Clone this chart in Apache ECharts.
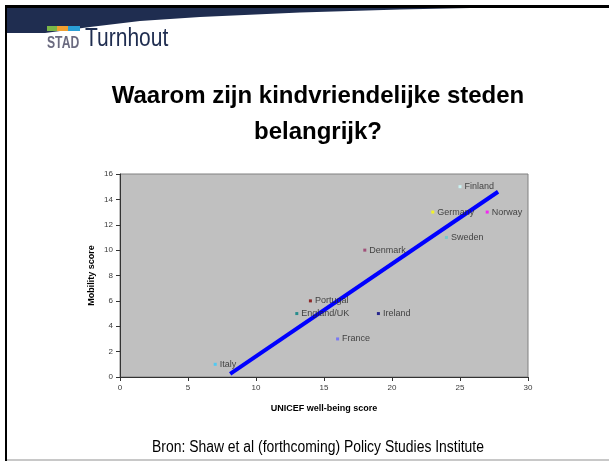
<!DOCTYPE html>
<html>
<head>
<meta charset="utf-8">
<script src="https://cdn.jsdelivr.net/npm/echarts@6/dist/echarts.min.js"></script>
<style>
html,body{margin:0;padding:0;background:#fff;}
#c{width:609px;height:461px;}
</style>
</head>
<body>
<div id="c"></div>
<script>
// ---- data ----
var countries = ['Italy','England/UK','Portugal','France','Ireland','Denmark','Germany','Sweden','Finland','Norway'];
var wellbeing = [7, 13, 14, 16, 19, 18, 23, 24, 25, 27];
var mobility  = [1, 5, 6, 3, 5, 10, 13, 11, 15, 13];
var pointColors = ['#33ccff','#008080','#800000','#6666ff','#000080','#993366','#ffff00','#66cccc','#ccffff','#ff00ff'];
var trendX = [8.1, 27.8];
var trendY = [0.25, 14.6];
var xTicks = [0, 5, 10, 15, 20, 25, 30];
var yTicks = [0, 2, 4, 6, 8, 10, 12, 14, 16];

var pts = countries.map(function(n, i){
  return {name: n, value: [wellbeing[i], mobility[i]], itemStyle: {color: pointColors[i]}};
});
var trend = trendX.map(function(x, i){ return [x, trendY[i]]; });

var chart = echarts.init(document.getElementById('c'), null, {renderer: 'canvas'});
var tickFont = {fontFamily: 'Liberation Sans, Arial', fontSize: 8, color: '#3a3a3a'};
var nameFont = {fontFamily: 'Liberation Sans, Arial', fontWeight: 'bold', fontSize: 9, color: '#000'};
chart.setOption({
  animation: false,
  backgroundColor: '#ffffff',
  graphic: [
    {type: 'polygon', shape: {points: [[5,6],[470,6],[470,8],[400,9.5],[300,12.5],[200,17],[140,21],[90,27],[45,33],[5,33]]}, style: {fill: '#1f2d50'}, z: 1},
    {type: 'rect', shape: {x: 5, y: 5, width: 604, height: 3}, style: {fill: '#000'}, z: 2},
    {type: 'rect', shape: {x: 5, y: 5, width: 2, height: 456}, style: {fill: '#000'}, z: 2},
    {type: 'rect', shape: {x: 7, y: 459, width: 602, height: 2}, style: {fill: '#c8c8c8'}, z: 2},
    {type: 'rect', shape: {x: 47, y: 26, width: 10, height: 5}, style: {fill: '#7ab648'}, z: 3},
    {type: 'rect', shape: {x: 57, y: 26, width: 11, height: 5}, style: {fill: '#f0a030'}, z: 3},
    {type: 'rect', shape: {x: 68, y: 26, width: 12, height: 5}, style: {fill: '#2a9fd6'}, z: 3},
    {type: 'text', x: 47, y: 35.5, scaleX: 0.76, style: {text: 'STAD', fill: '#6b6b80', font: 'bold 16px "Liberation Sans", Arial'}, z: 3},
    {type: 'text', x: 85, y: 27, scaleX: 0.84, style: {text: 'Turnhout', fill: '#1f2d50', font: '25px "Liberation Sans", Arial'}, z: 3},
    {type: 'text', x: 318, y: 84, style: {text: 'Waarom zijn kindvriendelijke steden', fill: '#000', font: 'bold 24px "Liberation Sans", Arial', textAlign: 'center'}, z: 3},
    {type: 'text', x: 318, y: 120.5, style: {text: 'belangrijk?', fill: '#000', font: 'bold 24px "Liberation Sans", Arial', textAlign: 'center'}, z: 3},
    {type: 'text', x: 318, y: 440, scaleX: 0.87, style: {text: 'Bron: Shaw et al (forthcoming) Policy Studies Institute', fill: '#000', font: '16px "Liberation Sans", Arial', textAlign: 'center'}, z: 3}
  ],
  grid: {left: 120, right: 81, top: 174, bottom: 84, show: true, backgroundColor: '#c0c0c0', borderColor: '#808080', borderWidth: 1},
  xAxis: {
    type: 'value', min: 0, max: 30, interval: 5,
    name: 'UNICEF well-being score', nameLocation: 'middle', nameGap: 27, nameMoveOverlap: false,
    nameTextStyle: nameFont,
    axisLine: {show: true, lineStyle: {color: '#333', width: 1}},
    axisTick: {show: true, length: 4, lineStyle: {color: '#333'}},
    axisLabel: Object.assign({margin: 7}, tickFont),
    splitLine: {show: false}
  },
  yAxis: {
    type: 'value', min: 0, max: 16, interval: 2,
    name: 'Mobility score', nameLocation: 'middle', nameGap: 24, nameRotate: 90, nameMoveOverlap: false,
    nameTextStyle: nameFont,
    axisLine: {show: true, lineStyle: {color: '#333', width: 1}},
    axisTick: {show: true, length: 4, lineStyle: {color: '#333'}},
    axisLabel: Object.assign({margin: 7}, tickFont),
    splitLine: {show: false}
  },
  series: [
    {type: 'scatter', data: pts, symbol: 'rect', symbolSize: 3,
     label: {show: true, position: 'right', distance: 3, formatter: '{b}',
             fontFamily: 'Liberation Sans, Arial', fontSize: 9, color: '#222'}, z: 3},
    {type: 'line', data: trend, symbol: 'none', lineStyle: {color: '#0000ff', width: 4}, z: 2}
  ]
});
</script>
</body>
</html>
